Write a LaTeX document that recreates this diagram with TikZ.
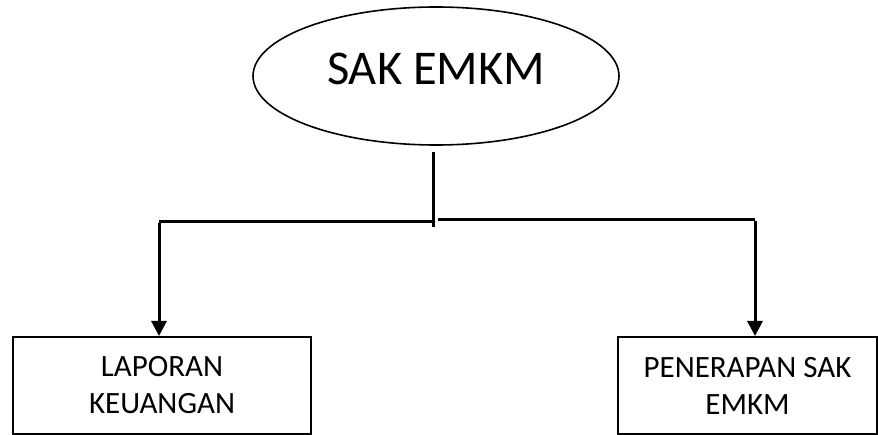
\documentclass[tikz,border=0pt]{standalone}
\usepackage{fontspec}
\setmainfont{Carlito}
\usetikzlibrary{shapes.geometric,arrows.meta}
\begin{document}
\begin{tikzpicture}[x=1pt,y=-1pt,
  ell/.style={draw,ellipse,line width=1.6pt,minimum width=366pt,minimum height=138pt,inner sep=0pt},
  boxn/.style={draw,rectangle,line width=2pt,inner sep=0pt,align=center,font=\fontsize{31}{37}\selectfont},
  conn/.style={line width=3pt},
  arr/.style={conn,-{Triangle[length=15pt,width=15pt]}}]
\useasboundingbox (0,0) rectangle (878,435);
\node[ell] (top) at (436,76) {};
\node[font=\fontsize{48.5}{55}\selectfont,inner sep=0pt] (toptxt) at (436,69) {SAK EMKM};
\node[boxn,minimum width=298pt,minimum height=97pt] (lbox) at (162,385.5) {LAPORAN\\KEUANGAN};
\node[boxn,minimum width=259pt,minimum height=97pt] (rbox) at (747.5,385.5) {PENERAPAN SAK\\EMKM};
\coordinate (vtop) at (433,152);
\coordinate (vbot) at (433,227);
\coordinate (lj) at (159,222);
\coordinate (lm) at (432,222);
\coordinate (rm) at (438,220);
\coordinate (rj) at (755,220);
\draw[conn] (vtop) -- (vbot);
\draw[conn] (lm) -- (lj);
\draw[conn] (rm) -- (rj);
\draw[arr] ([yshift=-1.5pt]lj) -- (lj |- lbox.north);
\draw[arr] ([yshift=-1.5pt]rj) -- (rj |- rbox.north);
\end{tikzpicture}
\end{document}
